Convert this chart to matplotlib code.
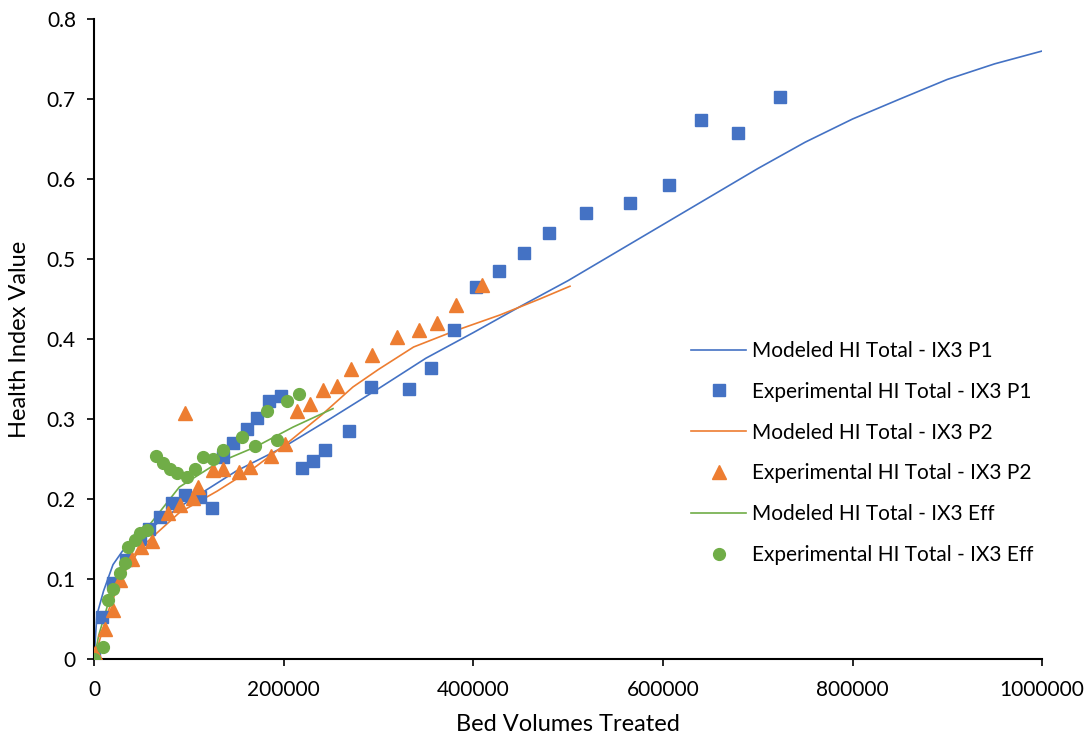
import matplotlib.pyplot as plt

plt.rcParams['font.family'] = ['Lato', 'DejaVu Sans']

# modeled curves
mod_p1_x = [0, 3000, 10000, 20000, 30000, 50000, 90000, 150000, 200000, 250000, 300000,
            350000, 400000, 450000, 500000, 550000, 600000, 650000, 700000, 750000,
            800000, 850000, 900000, 950000, 1000000]
mod_p1_y = [0, 0.055, 0.085, 0.118, 0.135, 0.155, 0.19, 0.235, 0.265, 0.301, 0.338,
            0.376, 0.408, 0.441, 0.473, 0.508, 0.543, 0.578, 0.613, 0.646,
            0.675, 0.700, 0.7245, 0.744, 0.760]

mod_p2_x = [0, 5000, 15000, 30000, 50000, 90000, 130000, 170000, 206000, 240000, 273000,
            300000, 337000, 380000, 428000, 470000, 502000]
mod_p2_y = [0, 0.02, 0.06, 0.105, 0.14, 0.183, 0.21, 0.24, 0.272, 0.305, 0.34,
            0.362, 0.39, 0.41, 0.43, 0.45, 0.466]

mod_eff_x = [0, 5000, 15000, 30000, 50000, 90000, 130000, 170000, 210000, 252000]
mod_eff_y = [0, 0.03, 0.07, 0.115, 0.155, 0.215, 0.245, 0.265, 0.29, 0.313]

# experimental points
exp_p1_x = [0, 8000, 20000, 34000, 48000, 58000, 69600, 81900, 96000, 112000, 124000,
            136300, 146900, 161000, 171500, 184800, 196800, 219000, 231200, 243900,
            268800, 291700, 332500, 355000, 379500, 402700, 427000, 453300, 479700,
            518700, 565100, 606200, 640700, 679300, 724000]
exp_p1_y = [0.003, 0.053, 0.095, 0.124, 0.15, 0.163, 0.178, 0.195, 0.205, 0.203, 0.189,
            0.253, 0.270, 0.288, 0.301, 0.322, 0.329, 0.239, 0.247, 0.261,
            0.285, 0.340, 0.3375, 0.364, 0.411, 0.465, 0.485, 0.508, 0.532,
            0.557, 0.570, 0.593, 0.674, 0.658, 0.703]

exp_p2_x = [1000, 11600, 20300, 27400, 40000, 50000, 60800, 78300, 90700, 96000, 104700,
            110000, 125800, 136300, 153200, 164500, 186300, 201400, 214400, 227700,
            241700, 255800, 270600, 293400, 319100, 343000, 361300, 382200, 408700]
exp_p2_y = [0.007, 0.038, 0.061, 0.099, 0.125, 0.14, 0.147, 0.182, 0.1925, 0.307, 0.201,
            0.215, 0.236, 0.238, 0.234, 0.240, 0.254, 0.269, 0.310, 0.319,
            0.336, 0.341, 0.363, 0.380, 0.403, 0.411, 0.420, 0.4425, 0.4675]

exp_eff_x = [0, 9800, 15100, 20300, 27400, 32700, 36200, 43200, 48500, 55500, 65400,
             73100, 80000, 87200, 97700, 106500, 115200, 125800, 136300, 156000,
             170000, 182300, 192600, 203800, 216100]
exp_eff_y = [0, 0.015, 0.074, 0.088, 0.107, 0.120, 0.140, 0.149, 0.157, 0.161, 0.254,
             0.245, 0.238, 0.232, 0.228, 0.237, 0.253, 0.250, 0.261, 0.277,
             0.266, 0.310, 0.274, 0.322, 0.331]

blue = '#4472C4'
orange = '#ED7D31'
green = '#70AD47'

fig = plt.figure(figsize=(10.91, 7.43), dpi=100)
ax = fig.add_axes([0.0862, 0.113, 0.869, 0.8614])

ax.plot(mod_p1_x, mod_p1_y, '-', color=blue, linewidth=1.2, label='Modeled HI Total - IX3 P1', zorder=2)
ax.plot(exp_p1_x, exp_p1_y, 's', color=blue, markersize=8.5, linestyle='none',
        label='Experimental HI Total - IX3 P1', zorder=3)
ax.plot(mod_p2_x, mod_p2_y, '-', color=orange, linewidth=1.2, label='Modeled HI Total - IX3 P2', zorder=2)
ax.plot(exp_p2_x, exp_p2_y, '^', color=orange, markersize=9.5, linestyle='none',
        label='Experimental HI Total - IX3 P2', zorder=3)
ax.plot(mod_eff_x, mod_eff_y, '-', color=green, linewidth=1.2, label='Modeled HI Total - IX3 Eff', zorder=2)
ax.plot(exp_eff_x, exp_eff_y, 'o', color=green, markersize=8.5, linestyle='none',
        label='Experimental HI Total - IX3 Eff', zorder=3)

ax.set_xlim(0, 1000000)
ax.set_ylim(0, 0.8)
ax.set_xticks([0, 200000, 400000, 600000, 800000, 1000000])
ax.set_xticklabels(['0', '200000', '400000', '600000', '800000', '1000000'])
ax.set_yticks([0, 0.1, 0.2, 0.3, 0.4, 0.5, 0.6, 0.7, 0.8])
ax.set_yticklabels(['0', '0.1', '0.2', '0.3', '0.4', '0.5', '0.6', '0.7', '0.8'])
ax.tick_params(labelsize=15, length=5, width=1.2, colors='black')
ax.tick_params(axis='x', pad=10)
ax.tick_params(axis='y', pad=8)
ax.spines['top'].set_visible(False)
ax.spines['right'].set_visible(False)
ax.spines['left'].set_linewidth(1.5)
ax.spines['bottom'].set_linewidth(1.5)

ax.set_xlabel('Bed Volumes Treated', fontsize=17, labelpad=10)
ax.set_ylabel('Health Index Value', fontsize=17, labelpad=12)

legend = ax.legend(loc='center left', bbox_to_anchor=(0.61, 0.322), frameon=False,
                   fontsize=15, labelspacing=1.0, handlelength=2.65, markerscale=1.0,
                   handletextpad=0.25)

fig.savefig('out.png', dpi=100)
